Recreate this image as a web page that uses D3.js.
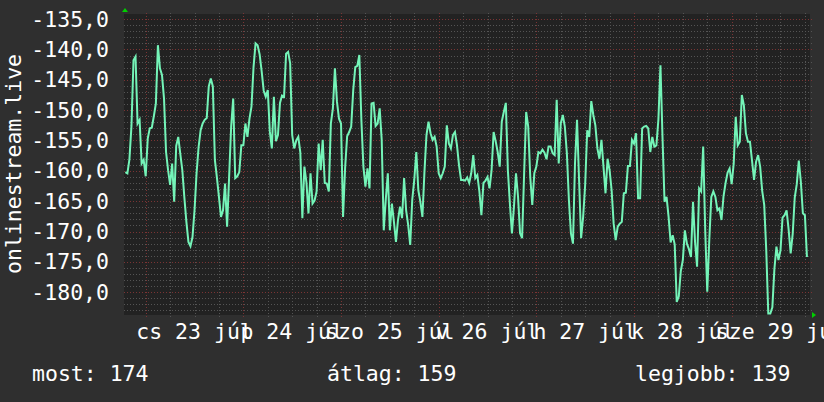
<!DOCTYPE html>
<html>
<head>
<meta charset="utf-8">
<script src="https://cdn.jsdelivr.net/npm/d3@7"></script>
<style>
  body { margin: 0; background: #2f2f2f; }
  svg { display: block; }
  text { font-family: "DejaVu Sans Mono", monospace; fill: #ffffff; }
</style>
</head>
<body>
<div id="chart"></div>
<script>
// half-hourly samples, starting 2020-07-22 19:00
var values = [
  -160.2,-160.4,-158.1,-152.6,-141.8,-141.2,-152.2,-151.6,-158.8,-158.2,
  -160.9,-154.7,-153.0,-152.9,-151.0,-148.9,-139.3,-143.1,-144.2,-148.1,
  -156.9,-159.9,-162.3,-158.8,-165.1,-155.9,-154.4,-157.2,-159.9,-164.4,
  -168.4,-171.7,-172.4,-170.9,-166.5,-160.4,-156.1,-153.3,-152.2,-151.6,
  -151.3,-146.1,-144.8,-146.1,-158.2,-161.1,-164.3,-167.6,-166.5,-162.1,
  -169.2,-161.0,-152.7,-148.1,-161.2,-160.9,-160.2,-155.8,-155.8,-152.2,
  -154.4,-151.4,-149.4,-142.9,-139.0,-139.3,-140.8,-143.6,-146.8,-147.8,
  -146.7,-153.5,-156.3,-147.8,-155.1,-154.1,-148.8,-147.6,-147.8,-140.7,
  -140.4,-142.3,-154.1,-156.3,-155.0,-154.4,-157.0,-167.8,-159.3,-161.9,
  -167.0,-160.4,-165.4,-164.9,-163.4,-155.5,-159.9,-154.9,-162.0,-162.1,
  -163.4,-152.2,-149.7,-143.1,-148.6,-151.4,-152.2,-167.6,-159.6,-154.3,
  -153.6,-152.7,-146.7,-142.9,-142.7,-140.9,-151.6,-159.3,-162.6,-159.6,
  -162.9,-148.9,-148.8,-152.6,-152.2,-149.7,-154.9,-169.8,-164.7,-160.4,
  -169.8,-165.4,-168.4,-171.7,-168.1,-165.9,-167.8,-161.2,-166.5,-168.9,
  -172.2,-164.8,-161.5,-156.9,-163.2,-165.1,-167.6,-160.2,-154.1,-151.9,
  -153.8,-154.9,-154.4,-156.0,-160.4,-161.2,-160.4,-159.3,-152.5,-155.5,
  -156.3,-154.1,-153.6,-155.8,-159.1,-161.5,-161.5,-161.6,-161.1,-162.0,
  -160.4,-157.4,-161.2,-160.7,-163.4,-167.3,-162.0,-161.6,-161.0,-162.9,
  -159.9,-153.6,-155.1,-156.9,-159.3,-151.9,-150.3,-148.8,-159.9,-165.4,
  -170.3,-165.9,-160.4,-164.3,-170.3,-171.1,-160.4,-150.3,-152.7,-161.0,
  -165.6,-160.4,-159.3,-156.9,-157.1,-156.5,-157.0,-158.1,-156.0,-156.0,
  -157.1,-157.4,-148.3,-158.8,-152.2,-150.8,-152.7,-157.1,-164.8,-170.3,
  -172.0,-158.8,-151.6,-161.5,-171.1,-167.6,-162.3,-153.3,-154.4,-148.5,
  -150.8,-152.5,-156.3,-158.0,-154.9,-159.3,-163.7,-158.0,-159.9,-163.2,
  -168.7,-171.4,-169.2,-168.7,-168.4,-163.7,-163.6,-159.2,-159.2,-154.9,
  -155.5,-153.8,-164.5,-164.5,-153.0,-152.7,-152.6,-153.0,-156.9,-154.4,
  -156.0,-155.8,-151.5,-142.6,-154.4,-165.1,-164.3,-167.6,-171.8,-170.6,
  -172.1,-181.6,-180.7,-176.5,-174.7,-169.8,-172.0,-172.9,-174.2,-165.1,
  -171.7,-175.8,-162.9,-163.4,-156.0,-169.8,-179.9,-171.4,-164.3,-163.4,
  -164.3,-166.5,-166.2,-168.1,-164.2,-162.0,-160.3,-159.6,-162.2,-158.8,
  -151.1,-155.8,-155.2,-147.5,-149.2,-153.8,-155.2,-155.2,-158.3,-161.5,
  -158.5,-157.4,-159.3,-163.3,-165.6,-173.1,-183.5,-183.5,-182.5,-176.2,
  -172.5,-174.7,-173.1,-167.7,-167.3,-166.5,-169.7,-173.6,-170.4,-164.4,
  -162.2,-158.3,-161.8,-167.0,-167.3,-174.2
];

var yTicks = [-180, -175, -170, -165, -160, -155, -150, -145, -140, -135];
var dayNames = ["v", "h", "k", "sze", "cs", "p", "szo"];
var monthName = "júl";
var yTitle = "onlinestream.live";
var legendNames = ["most", "átlag", "legjobb"];
var legendValues = [174, 159, 139];

var width = 824, height = 402;
var plot = {left: 124, right: 810, top: 14, bottom: 315};

var svg = d3.select("#chart").append("svg")
    .attr("width", width)
    .attr("height", height);

svg.append("rect")
    .attr("width", width).attr("height", height)
    .attr("fill", "#2f2f2f");

svg.append("rect")
    .attr("x", plot.left).attr("y", plot.top)
    .attr("width", plot.right - plot.left)
    .attr("height", plot.bottom - plot.top)
    .attr("fill", "#222222");

var start = Date.UTC(2020, 6, 22, 19, 0);
var times = values.map(function(d, i) { return new Date(start + i * 30 * 60000); });

var x = d3.scaleUtc()
  .domain([new Date(Date.UTC(2020, 6, 22, 18, 40)), new Date(Date.UTC(2020, 6, 29, 19, 15))])
  .range([plot.left, plot.right]);

var y = d3.scaleLinear()
  .domain([-183.75, -134.16])
  .range([plot.bottom, plot.top]);

var grid = svg.append("g");

// minor horizontal grid, every 1 unit
grid.selectAll("line.hmin")
  .data(d3.range(-183, -134, 1).filter(function(v) { return v % 5 !== 0; }))
  .enter().append("line")
    .attr("x1", plot.left).attr("x2", plot.right + 2)
    .attr("y1", function(d) { return Math.round(y(d)) + 0.5; })
    .attr("y2", function(d) { return Math.round(y(d)) + 0.5; })
    .attr("stroke", "#545454")
    .attr("stroke-dasharray", "1,2");

// minor vertical grid, every 6 hours
grid.selectAll("line.vmin")
  .data(x.ticks(d3.utcHour.every(6)).filter(function(d) { return d.getUTCHours() !== 0; }))
  .enter().append("line")
    .attr("x1", function(d) { return Math.round(x(d)) + 0.5; })
    .attr("x2", function(d) { return Math.round(x(d)) + 0.5; })
    .attr("y1", plot.top - 1).attr("y2", plot.bottom + 2)
    .attr("stroke", "#545454")
    .attr("stroke-dasharray", "1,2");

// major grid
grid.selectAll("line.hmaj")
  .data(yTicks)
  .enter().append("line")
    .attr("x1", plot.left).attr("x2", plot.right + 2)
    .attr("y1", function(d) { return Math.round(y(d)) + 0.5; })
    .attr("y2", function(d) { return Math.round(y(d)) + 0.5; })
    .attr("stroke", "#7a3434")
    .attr("stroke-dasharray", "1,2");

grid.selectAll("line.vmaj")
  .data(x.ticks(d3.utcDay.every(1)))
  .enter().append("line")
    .attr("x1", function(d) { return Math.round(x(d)) + 0.5; })
    .attr("x2", function(d) { return Math.round(x(d)) + 0.5; })
    .attr("y1", plot.top - 1).attr("y2", plot.bottom + 2)
    .attr("stroke", "#7a3434")
    .attr("stroke-dasharray", "1,2");

// the line
svg.append("clipPath").attr("id", "clip")
  .append("rect")
    .attr("x", plot.left).attr("y", plot.top)
    .attr("width", plot.right - plot.left)
    .attr("height", plot.bottom - plot.top + 1);

var line = d3.line()
  .x(function(d, i) { return x(times[i]); })
  .y(function(d) { return y(d); });

svg.append("path")
  .datum(values)
  .attr("clip-path", "url(#clip)")
  .attr("fill", "none")
  .attr("stroke", "#74f4b8")
  .attr("stroke-width", 2)
  .attr("stroke-linejoin", "miter")
  .attr("d", line);

// arrows
svg.append("path")
  .attr("d", "M" + (plot.left + 1) + "," + (plot.top - 6) + "l-3,4h6z")
  .attr("fill", "#00d000");
svg.append("path")
  .attr("d", "M" + (plot.right + 6) + "," + (plot.bottom) + "l-4,-3v6z")
  .attr("fill", "#00d000");

// y labels
var loc = d3.formatLocale({decimal: ",", thousands: " ", grouping: [3], currency: ["", ""], minus: "-"});
var fmt = loc.format(".1f");

svg.selectAll("text.ylab")
  .data(yTicks)
  .enter().append("text")
    .attr("x", 109)
    .attr("y", function(d) { return y(d) + 7.6; })
    .attr("text-anchor", "end")
    .style("font-size", "21.5px")
    .text(function(d) { return fmt(d); });

// x labels at noon
var noons = d3.utcDay.range(new Date(Date.UTC(2020, 6, 23)), new Date(Date.UTC(2020, 6, 30)))
  .map(function(d) { return new Date(d.getTime() + 12 * 3600000); });

svg.selectAll("text.xlab")
  .data(noons)
  .enter().append("text")
    .attr("x", function(d) { return x(d); })
    .attr("y", 339)
    .attr("text-anchor", "middle")
    .style("font-size", "21.5px")
    .text(function(d) { return dayNames[d.getUTCDay()] + " " + d.getUTCDate() + " " + monthName; });

// y title
svg.append("text")
  .attr("transform", "translate(21,164) rotate(-90)")
  .attr("text-anchor", "middle")
  .style("font-size", "21.5px")
  .text(yTitle);

// legend
var legendX = [32, 327, 635];
svg.selectAll("text.leg")
  .data(legendNames)
  .enter().append("text")
    .attr("x", function(d, i) { return legendX[i]; })
    .attr("y", 381)
    .style("font-size", "21.5px")
    .text(function(d, i) { return d + ": " + legendValues[i]; });
</script>
</body>
</html>
